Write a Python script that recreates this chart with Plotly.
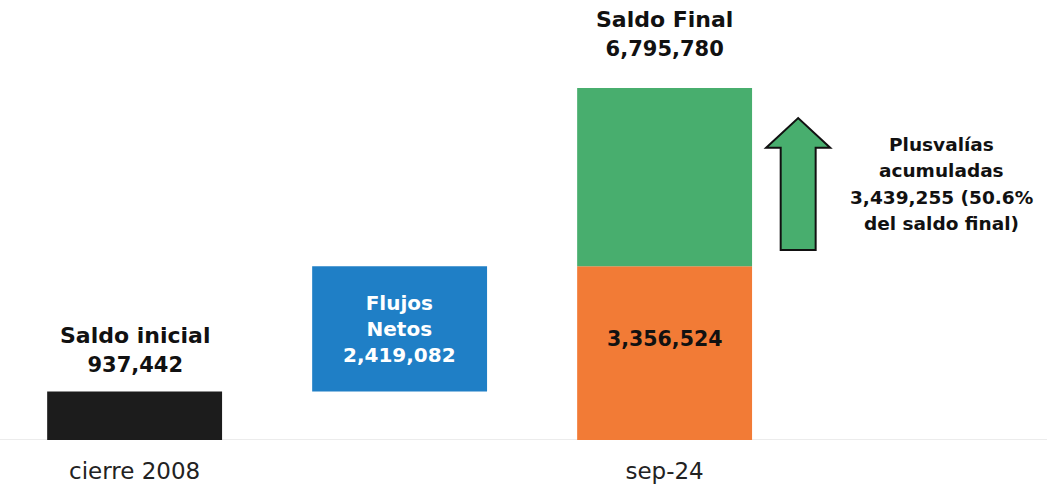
import plotly.graph_objects as go

# ---- data ----
categories = ["cierre 2008", "Flujos Netos", "sep-24"]
tick_labels = ["cierre 2008", "", "sep-24"]
saldo_inicial = 937442
flujos_netos = 2419082
aportaciones_acum = 3356524
saldo_final = 6795780
plusvalias = 3439255
plusvalias_pct = 50.6

x_pos = [0, 1, 2]
FONT = "DejaVu Sans"
W, H = 1047, 491

fig = go.Figure()
bw = 0.66
fig.add_trace(go.Bar(x=[x_pos[0]], y=[saldo_inicial], base=[0], width=bw,
                     marker=dict(color="#1c1c1c", line=dict(width=0)), hoverinfo="skip"))
fig.add_trace(go.Bar(x=[x_pos[1]], y=[flujos_netos], base=[saldo_inicial], width=bw,
                     marker=dict(color="#1f7fc6", line=dict(width=0)), hoverinfo="skip"))
fig.add_trace(go.Bar(x=[x_pos[2]], y=[aportaciones_acum], base=[0], width=bw,
                     marker=dict(color="#f27b36", line=dict(width=0)), hoverinfo="skip"))
fig.add_trace(go.Bar(x=[x_pos[2]], y=[saldo_final - aportaciones_acum], base=[aportaciones_acum], width=bw,
                     marker=dict(color="#48ae6e", line=dict(width=0)), hoverinfo="skip"))

ymax = saldo_final * 440 / 352

def fmt(v):
    return f"{v:,.0f}"

def sz(t, s):
    return f"<span style='font-size:{s}px'>{t}</span>"

bold = dict(family=FONT, size=22, color="#111111")
anns = [
    dict(x=x_pos[0], y=saldo_inicial, yanchor="bottom", yshift=12,
         text=f"<b>Saldo inicial<br>{sz(fmt(saldo_inicial), 21)}</b>", font=bold),
    dict(x=x_pos[1], y=saldo_inicial + flujos_netos / 2, yanchor="middle", yshift=0,
         text=f"<b>Flujos<br>Netos<br>{fmt(flujos_netos)}</b>", font=dict(family=FONT, size=20, color="white")),
    dict(x=x_pos[2], y=aportaciones_acum / 2, yanchor="middle", yshift=14,
         text=f"<b>{fmt(aportaciones_acum)}</b>", font=dict(family=FONT, size=20.5, color="#111111")),
    dict(x=x_pos[2], y=saldo_final, yanchor="bottom", yshift=25,
         text=f"<b>Saldo Final<br>{sz(fmt(saldo_final), 21)}</b>", font=bold),
]
# right-hand note, one annotation per line for line spacing
note_lines = ["Plusvalías", "acumuladas", f"{fmt(plusvalias)} ({plusvalias_pct}%", "del saldo final)"]
note_y = 4952000
for i, ln in enumerate(note_lines):
    anns.append(dict(x=3.045, y=note_y, yanchor="middle", yshift=39 - 26.3 * i,
                     text=f"<b>{ln}</b>", font=dict(family=FONT, size=18.5, color="#111111")))
for a in anns:
    a.update(showarrow=False, xref="x", yref="y", align="center")
fig.update_layout(annotations=anns)

# arrow (decoration)
xc = 2.504
sw, hw = 0.066, 0.121
y0, yh, yt = 3668000, 5640000, 6216000
path = (f"M {xc-sw},{y0} L {xc+sw},{y0} L {xc+sw},{yh} L {xc+hw},{yh} "
        f"L {xc},{yt} L {xc-hw},{yh} L {xc-sw},{yh} Z")
fig.add_shape(type="path", path=path, xref="x", yref="y",
              fillcolor="#48ae6e", line=dict(color="#111111", width=2))
fig.add_shape(type="line", xref="paper", yref="y", x0=0, x1=1, y0=0, y1=0,
              line=dict(color="#e6e6e6", width=1.5), layer="below")

fig.update_layout(
    width=W, height=H, showlegend=False, barmode="overlay",
    margin=dict(l=0, r=0, t=0, b=51),
    plot_bgcolor="white", paper_bgcolor="white",
    xaxis=dict(range=[-0.508, 3.443], tickvals=x_pos, ticktext=tick_labels,
               showgrid=False, zeroline=False, showline=False, ticks="",
               ticklabelstandoff=15,
               tickfont=dict(family=FONT, size=23, color="#222222")),
    yaxis=dict(range=[0, ymax], visible=False, showgrid=False, zeroline=False),
)
fig.write_html("out.html", config={"displayModeBar": False},
               post_script="document.body.style.margin='0';document.body.style.overflow='hidden';")
